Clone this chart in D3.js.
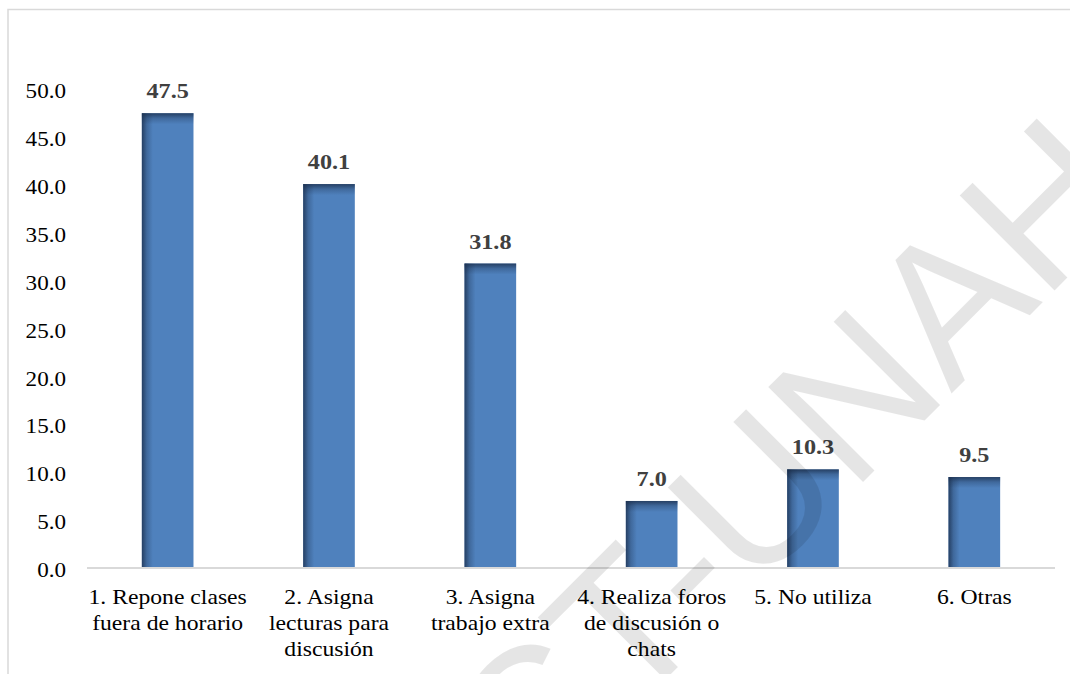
<!DOCTYPE html>
<html>
<head>
<meta charset="utf-8">
<script src="https://cdn.jsdelivr.net/npm/d3@7"></script>
<style>
  html, body { margin: 0; padding: 0; background: #fff; }
  svg { display: block; }
  .serif { font-family: "Liberation Serif", "Times New Roman", Times, serif; }
  .sans { font-family: "Liberation Sans", Arial, Helvetica, sans-serif; }
</style>
</head>
<body>
<svg id="chart" width="1070" height="674"></svg>
<script>
// Category labels (line breaks mark the wrapped lines under each bar)
const categories = [
  "1. Repone clases\nfuera de horario",
  "2. Asigna\nlecturas para\ndiscusión",
  "3. Asigna\ntrabajo extra",
  "4. Realiza foros\nde discusión o\nchats",
  "5. No utiliza",
  "6. Otras"
];
// Percentages
const values = [47.5, 40.1, 31.8, 7.0, 10.3, 9.5];
// Y axis ticks
const yTicks = [0, 5, 10, 15, 20, 25, 30, 35, 40, 45, 50];
const watermarkText = "CT-UNAH";

const width = 1070, height = 674;
const svg = d3.select("#chart");
const stretch = 1.1;

// Chart frame
svg.append("path")
  .attr("d", `M8,${height} L8,9.5 L${width},9.5`)
  .attr("fill", "none")
  .attr("stroke", "#d9d9d9")
  .attr("stroke-width", 1.5);

const x = d3.scaleBand()
  .domain(d3.range(categories.length))
  .range([87, 1055])
  .paddingInner(0.68)
  .paddingOuter(0.34);

const y = d3.scaleLinear().domain([0, 50]).range([568, 89.3]);

// Gradients for the bar shading
const defs = svg.append("defs");
const gLeft = defs.append("linearGradient").attr("id", "shadeLeft")
  .attr("x1", 0).attr("x2", 1).attr("y1", 0).attr("y2", 0);
gLeft.append("stop").attr("offset", 0).attr("stop-color", "#1b2f4d").attr("stop-opacity", 0.8);
gLeft.append("stop").attr("offset", 0.45).attr("stop-color", "#1b2f4d").attr("stop-opacity", 0.3);
gLeft.append("stop").attr("offset", 1).attr("stop-color", "#1b2f4d").attr("stop-opacity", 0);

const gTop = defs.append("linearGradient").attr("id", "shadeTop")
  .attr("x1", 0).attr("x2", 0).attr("y1", 0).attr("y2", 1);
gTop.append("stop").attr("offset", 0).attr("stop-color", "#1b2f4d").attr("stop-opacity", 0.8);
gTop.append("stop").attr("offset", 0.45).attr("stop-color", "#1b2f4d").attr("stop-opacity", 0.3);
gTop.append("stop").attr("offset", 1).attr("stop-color", "#1b2f4d").attr("stop-opacity", 0);

// Bars
const bars = svg.append("g").selectAll("g")
  .data(values)
  .join("g");

bars.append("rect")
  .attr("x", (d, i) => x(i))
  .attr("y", d => y(d))
  .attr("width", x.bandwidth())
  .attr("height", d => y(0) - y(d))
  .attr("fill", "#4f81bd");

bars.append("rect")
  .attr("x", (d, i) => x(i))
  .attr("y", d => y(d))
  .attr("width", 11)
  .attr("height", d => y(0) - y(d))
  .attr("fill", "url(#shadeLeft)");

bars.append("rect")
  .attr("x", (d, i) => x(i))
  .attr("y", d => y(d))
  .attr("width", x.bandwidth())
  .attr("height", d => Math.min(11, y(0) - y(d)))
  .attr("fill", "url(#shadeTop)");

// Category axis line
svg.append("line")
  .attr("x1", 87).attr("x2", 1055)
  .attr("y1", y(0)).attr("y2", y(0))
  .attr("stroke", "#d9d9d9")
  .attr("stroke-width", 2);

// Y tick labels
svg.append("g").selectAll("text")
  .data(yTicks)
  .join("text")
  .attr("class", "serif")
  .attr("transform", d => `translate(66,${y(d) + 9}) scale(${stretch},1)`)
  .attr("text-anchor", "end")
  .attr("font-size", 21)
  .attr("fill", "#000")
  .text(d => d3.format(".1f")(d));

// Value labels
svg.append("g").selectAll("text")
  .data(values)
  .join("text")
  .attr("class", "serif")
  .attr("transform", (d, i) => `translate(${x(i) + x.bandwidth() / 2},${y(d) - 15}) scale(${stretch},1)`)
  .attr("text-anchor", "middle")
  .attr("font-size", 22)
  .attr("font-weight", "bold")
  .attr("fill", "#404040")
  .text(d => d3.format(".1f")(d));

// Category labels
const catG = svg.append("g").selectAll("g")
  .data(categories)
  .join("g")
  .attr("transform", (d, i) => `translate(${x(i) + x.bandwidth() / 2},604) scale(${stretch},1)`);

catG.selectAll("text")
  .data(d => d.split("\n"))
  .join("text")
  .attr("class", "serif")
  .attr("y", (d, j) => j * 26)
  .attr("text-anchor", "middle")
  .attr("font-size", 21.5)
  .attr("fill", "#000")
  .text(d => d);

// Watermark
svg.append("text")
  .attr("class", "sans")
  .attr("transform", "translate(530,815) rotate(-45)")
  .attr("font-size", 195)
  .attr("fill", "#000")
  .attr("fill-opacity", 0.1)
  .text(watermarkText);
</script>
</body>
</html>
